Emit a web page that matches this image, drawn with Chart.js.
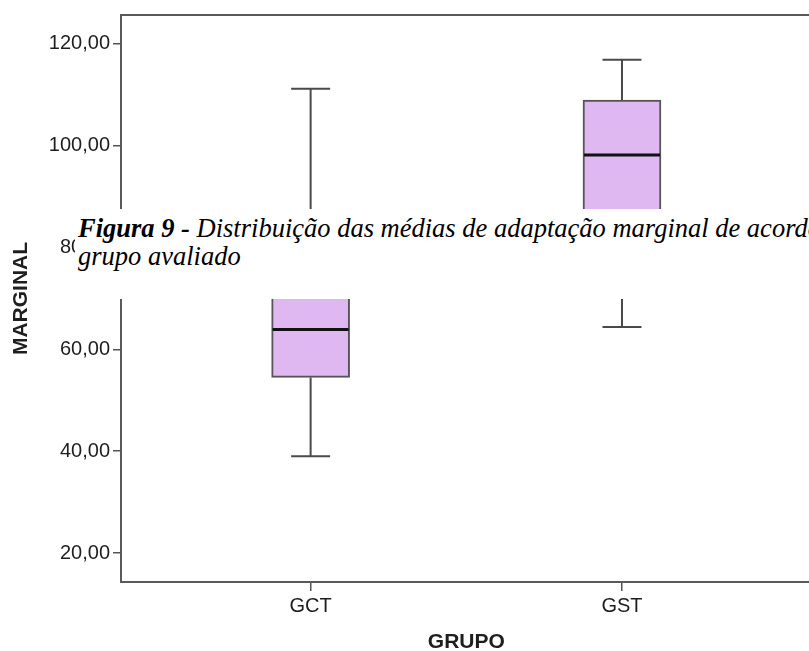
<!DOCTYPE html>
<html><head><meta charset="utf-8">
<script src="https://cdn.jsdelivr.net/npm/chart.js@4/dist/chart.umd.min.js"></script>
<style>
html,body{margin:0;padding:0;background:#fff;overflow:hidden;}
#wrap{position:relative;width:809px;height:651px;overflow:hidden;background:#fff;}
#c{position:absolute;left:0;top:0;width:813px;height:655px;}
#cap{position:absolute;left:75px;top:209px;width:734px;height:90px;background:#fff;box-sizing:border-box;padding:5px 0 0 3px;font-family:'Liberation Serif','Times New Roman',serif;font-style:italic;font-size:26.5px;line-height:28px;color:#000;white-space:nowrap;overflow:hidden;}
</style></head><body>
<div id="wrap"><canvas id="c" width="813" height="655"></canvas>
<div id="cap"><b>Figura 9 -</b> Distribuição das médias de adaptação marginal de acordo com o<br>grupo avaliado</div></div>
<script>
const categories = ['GCT', 'GST'];
const xPositions = [1, 2];
const whiskerLow = [39.0, 64.4];
const q1 = [54.5, 80.0];
const median = [63.9, 98.2];
const q3 = [76.0, 109.0];
const whiskerHigh = [111.2, 116.9];
const yTickValues = [20, 40, 60, 80, 100, 120];
const yTickLabels = ['20,00', '40,00', '60,00', '80,00', '100,00', '120,00'];
const xTitle = 'GRUPO';
const yTitle = 'MARGINAL';

const boxData = categories.map((c, i) => ({ x: xPositions[i], y: [q1[i], q3[i]] }));
const FONT = "'Liberation Sans', Arial, Helvetica, sans-serif";

const boxParts = {
  id: 'boxParts',
  beforeDatasetsDraw(chart) {
    const { ctx, scales: { x, y } } = chart;
    ctx.save();
    ctx.strokeStyle = '#4a4a4a';
    ctx.lineWidth = 2;
    categories.forEach((c, i) => {
      const px = x.getPixelForValue(xPositions[i]);
      const capHalf = 19.5;
      [[q3[i], whiskerHigh[i]], [q1[i], whiskerLow[i]]].forEach(([a, b]) => {
        const ya = y.getPixelForValue(a), yb = y.getPixelForValue(b);
        ctx.beginPath();
        ctx.moveTo(px, ya); ctx.lineTo(px, yb);
        ctx.moveTo(px - capHalf, yb); ctx.lineTo(px + capHalf, yb);
        ctx.stroke();
      });
    });
    ctx.restore();
  },
  afterDatasetsDraw(chart) {
    const { ctx, scales: { x, y }, chartArea: ca } = chart;
    ctx.save();
    ctx.strokeStyle = '#111';
    ctx.lineWidth = 3;
    categories.forEach((c, i) => {
      const px = x.getPixelForValue(xPositions[i]);
      const py = y.getPixelForValue(median[i]);
      ctx.beginPath();
      ctx.moveTo(px - 38, py); ctx.lineTo(px + 38, py);
      ctx.stroke();
    });
    ctx.strokeStyle = '#5a5a5a';
    ctx.lineWidth = 2;
    ctx.strokeRect(ca.left, ca.top, ca.right - ca.left, ca.bottom - ca.top);
    ctx.restore();
  }
};

new Chart(document.getElementById('c'), {
  type: 'bar',
  data: {
    datasets: [{
      data: boxData,
      backgroundColor: '#DFB8F1',
      borderColor: '#555',
      borderWidth: 2,
      borderSkipped: false,
      barThickness: 78
    }]
  },
  plugins: [boxParts],
  options: {
    responsive: false,
    animation: false,
    devicePixelRatio: 1,
    layout: { padding: { top: 14, right: 1.4, left: 0, bottom: 0 } },
    plugins: { legend: { display: false }, tooltip: { enabled: false } },
    scales: {
      x: {
        type: 'linear',
        offset: false,
        min: 0.391, max: 2.609,
        afterBuildTicks(s) { s.ticks = xPositions.map(v => ({ value: v })); },
        afterFit(s) { s.height = 73; },
        ticks: {
          autoSkip: false, maxRotation: 0, padding: 3,
          color: '#1e1e1e', font: { family: FONT, size: 20 },
          callback(v) { const i = xPositions.indexOf(v); return i >= 0 ? categories[i] : ''; }
        },
        grid: { display: true, offset: false, drawOnChartArea: false, drawTicks: true, tickLength: 9, color: '#555', lineWidth: 1.5 },
        border: { display: false },
        title: { display: true, text: xTitle, color: '#1e1e1e', font: { family: FONT, size: 21, weight: 'bold' }, padding: { top: 0, bottom: 0 } }
      },
      y: {
        type: 'linear',
        min: 14.31, max: 125.69,
        afterBuildTicks(s) { s.ticks = yTickValues.map(v => ({ value: v })); },
        afterFit(s) { s.width = 121; },
        ticks: {
          autoSkip: false, padding: 3,
          color: '#1e1e1e', font: { family: FONT, size: 20 },
          callback(v) { const i = yTickValues.indexOf(v); return i >= 0 ? yTickLabels[i] : ''; }
        },
        grid: { display: true, drawOnChartArea: false, drawTicks: true, tickLength: 8, color: '#555', lineWidth: 1.5 },
        border: { display: false },
        title: { display: true, text: yTitle, color: '#1e1e1e', font: { family: FONT, size: 21, weight: 'bold' }, padding: { top: 9, bottom: 0 } }
      }
    }
  }
});
</script>
</body></html>
